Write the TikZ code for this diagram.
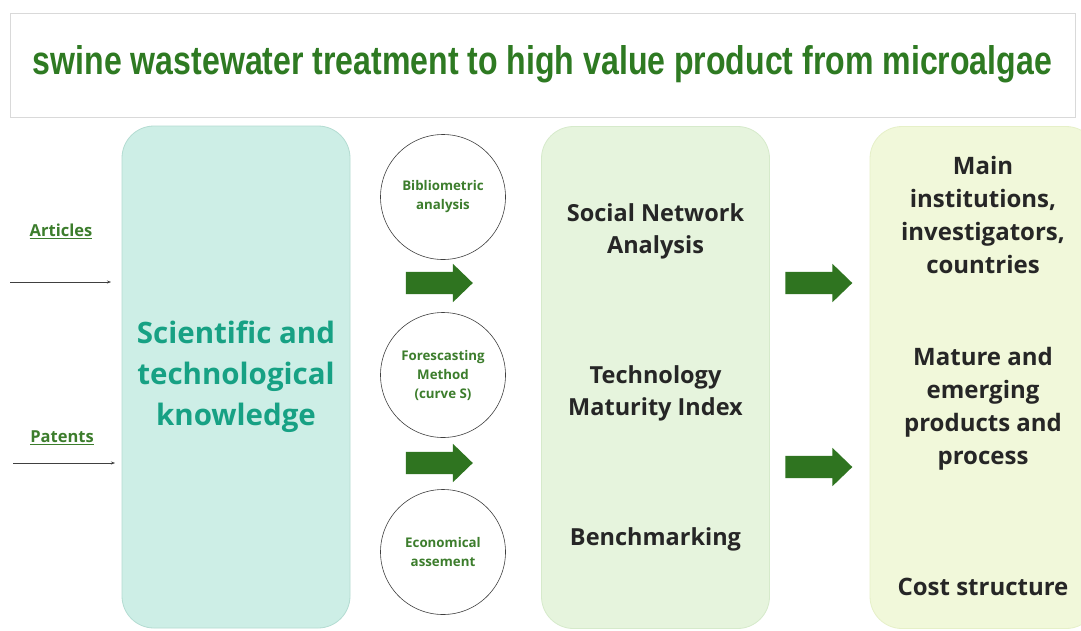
\documentclass[tikz,border=0pt]{standalone}
\usepackage{fontspec}
\usepackage{graphicx}
\setmainfont{Open Sans}
\newfontfamily\titlefont{Liberation Sans}
\usetikzlibrary{shapes.arrows,arrows.meta}

\definecolor{titlegreen}{HTML}{2E7A22}
\definecolor{labelgreen}{HTML}{3C7D2C}
\definecolor{arrowgreen}{HTML}{2F7420}
\definecolor{tealtext}{HTML}{17A184}
\definecolor{tealfill}{HTML}{CDEEE6}
\definecolor{tealline}{HTML}{B4DCD2}
\definecolor{mintfill}{HTML}{E6F4DD}
\definecolor{mintline}{HTML}{D6EACB}
\definecolor{limefill}{HTML}{F1F8DA}
\definecolor{limeline}{HTML}{E6F0C8}
\definecolor{darktext}{HTML}{262626}

\tikzset{
  panel/.style={rounded corners=32pt, line width=0.8pt, minimum width=228pt, minimum height=502pt, inner sep=0pt},
  method/.style={circle, draw=black!75, line width=0.6pt, minimum size=125pt, inner sep=0pt,
    align=center, text=labelgreen, font=\bfseries\fontsize{13.3}{19}\selectfont},
  bigarrow/.style={single arrow, fill=arrowgreen, draw=none, inner sep=11pt,
    minimum height=67pt, single arrow head extend=8pt, single arrow tip angle=88},
  source/.style={text=labelgreen, font=\bfseries\fontsize{16.5}{19}\selectfont},
  feed/.style={-{Stealth[length=4pt,width=3pt]}, draw=black!75, line width=0.5pt},
  midtext/.style={align=center, text=darktext, font=\bfseries\fontsize{23.5}{32}\selectfont},
  righttext/.style={align=center, text=darktext, font=\bfseries\fontsize{24}{33}\selectfont}
}

\begin{document}
\begin{tikzpicture}[x=1pt,y=-1pt]
  \clip (0,0) rectangle (1081,630);
  \fill[white] (0,0) rectangle (1081,630);

  % title banner
  \node[draw=black!15, line width=0.8pt, minimum width=1065pt, minimum height=104pt, inner sep=0pt] (banner) at (542.5,65) {};
  \node[text=titlegreen, inner sep=0pt] (title) at (542.5,64)
    {\resizebox{1019pt}{\height}{\titlefont\bfseries\fontsize{40}{44}\selectfont swine wastewater treatment to high value product from microalgae}};

  % three panels
  \node[panel, fill=tealfill, draw=tealline] (knowledge) at (236,377) {};
  \node[panel, fill=mintfill, draw=mintline] (tools) at (655.5,377.5) {};
  \node[panel, fill=limefill, draw=limeline] (results) at (984,377.5) {};

  \node[align=center, text=tealtext, font=\bfseries\fontsize{29.5}{41}\selectfont] (knowtext) at (236,377)
    {Scientific and\\technological\\knowledge};

  % sources feeding the knowledge panel
  \node[source] (articles) at (61,231) {\underline{Articles}};
  \node[source] (patents) at (62,438) {\underline{Patents}};
  \coordinate (artstart) at (10,282);
  \coordinate (artend) at (111,282);
  \coordinate (patstart) at (13,463);
  \coordinate (patend) at (115,463);
  \draw[feed] (artstart) -- (artend);
  \draw[feed] (patstart) -- (patend);

  % methods
  \node[method] (biblio) at (443,197) {Bibliometric\\analysis};
  \node[method] (forecast) at (443,375) {Forescasting\\Method\\(curve S)};
  \node[method] (econ) at (443,552) {Economical\\assement};

  \node[bigarrow] (arrowA) at (433.5,283) {};
  \node[bigarrow] (arrowB) at (433.5,463) {};

  % analysis tools
  \node[midtext] (sna) at (655.5,231) {Social Network\\Analysis};
  \node[midtext] (tmi) at (655.5,393) {Technology\\Maturity Index};
  \node[midtext] (bench) at (655.5,539) {Benchmarking};

  \node[bigarrow] (arrowC) at (813,283) {};
  \node[bigarrow] (arrowD) at (813,467) {};

  % outcomes
  \node[righttext] (actors) at (983,215) {Main\\institutions,\\investigators,\\countries};
  \node[righttext] (products) at (983,409) {Mature and\\emerging\\products and\\process};
  \node[righttext] (cost) at (983,587) {Cost structure};
\end{tikzpicture}
\end{document}
